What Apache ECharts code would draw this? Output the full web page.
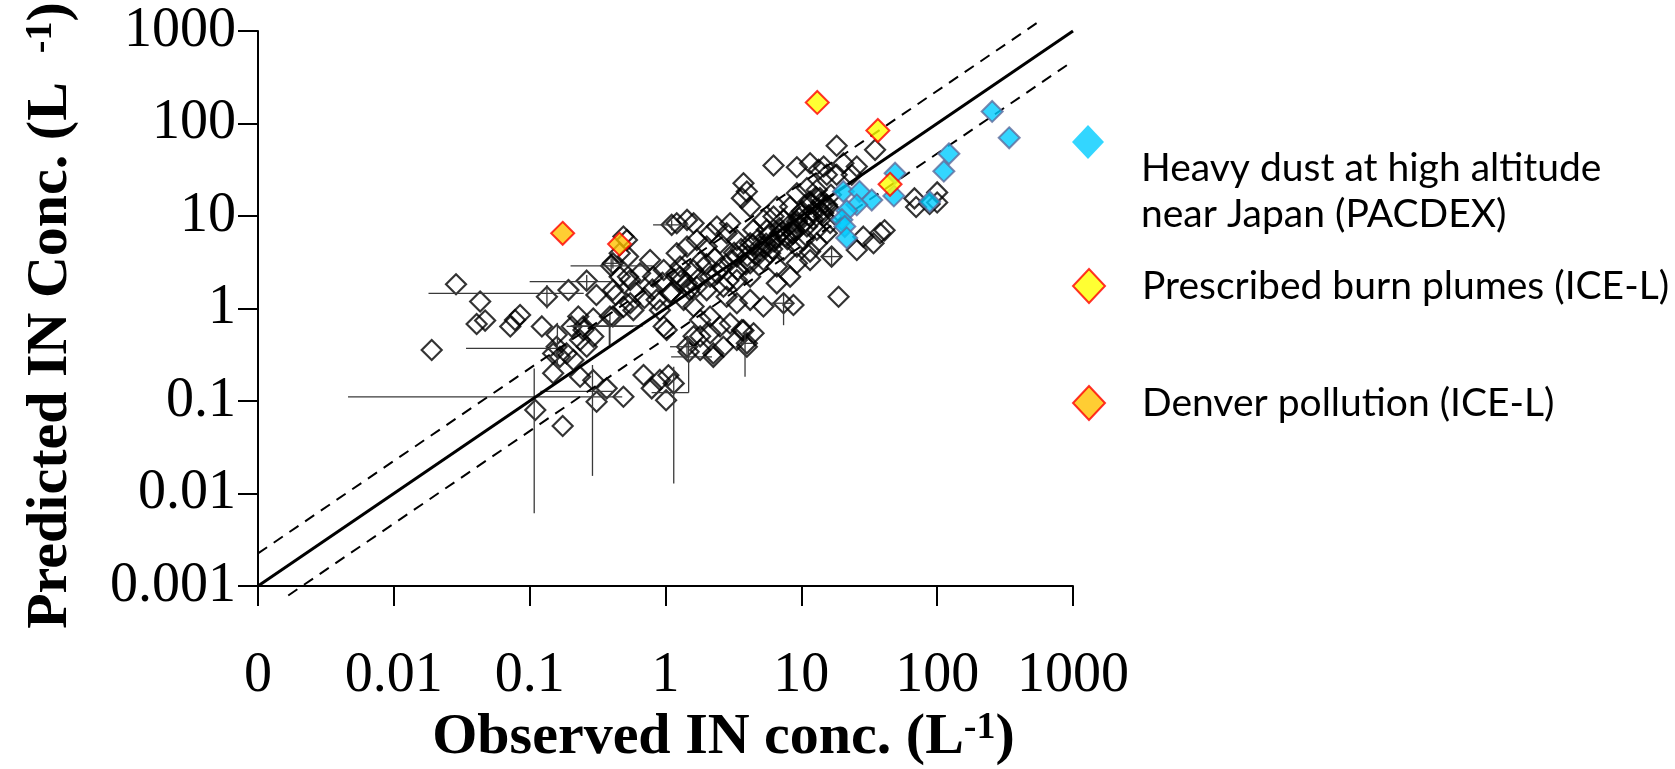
<!DOCTYPE html>
<html>
<head>
<meta charset="utf-8">
<title>Predicted vs observed IN concentration</title>
<script src="https://cdn.jsdelivr.net/npm/echarts@6.0.0/dist/echarts.min.js"></script>
<style>
  html, body { margin: 0; padding: 0; background: #ffffff; }
  #chart { width: 1675px; height: 769px; }
</style>
</head>
<body>
<div id="chart"></div>
<script>
// ---- tick labels (decades 0.001 ... 1000) ----
const xTickLabels = ['0', '0.01', '0.1', '1', '10', '100', '1000'];
const yTickLabels = ['0.001', '0.01', '0.1', '1', '10', '100', '1000'];

// ---- series names ----
const nameAll = 'All samples';
const nameDust = 'Heavy dust at high altitude near Japan (PACDEX)';
const nameBurn = 'Prescribed burn plumes (ICE-L)';
const nameDenver = 'Denver pollution (ICE-L)';

// ---- observed / predicted IN concentrations (L^-1) ----
const allSamples = [
  [0.0287, 1.83], [0.0432, 1.19], [0.0407, 0.68], [0.047, 0.74], [0.019, 0.356],
  [0.072, 0.64], [0.085, 0.85], [0.078, 0.75], [0.123, 0.64], [0.134, 1.34],
  [0.193, 1.58], [0.263, 2.0], [0.398, 2.89], [0.31, 1.4], [0.43, 1.4],
  [0.158, 0.52], [0.149, 0.2], [0.11, 0.08], [0.228, 0.82], [0.248, 0.64],
  [0.294, 0.78], [0.204, 0.64], [0.149, 0.327], [0.167, 0.3], [0.187, 0.327],
  [0.21, 0.277], [0.158, 0.386], [0.235, 0.456], [0.263, 0.386], [0.39, 0.82],
  [0.235, 0.183], [0.294, 0.168], [0.311, 0.098], [0.369, 0.137], [0.49, 0.111],
  [0.175, 0.0536], [0.49, 6.0], [0.53, 3.64], [0.53, 2.2], [0.49, 1.04],
  [0.689, 0.191], [0.792, 0.137], [1.01, 0.102], [0.91, 0.169], [1.15, 0.155],
  [1.05, 0.19], [1.48, 0.34], [2.25, 0.3], [2.67, 0.386], [1.8, 0.5],
  [3.97, 0.42], [4.45, 0.54], [3.65, 0.586], [1.02, 0.586], [0.294, 0.497],
  [0.249, 0.586],
  [18.2, 57.4], [34.9, 51.9], [6.24, 35.1], [9.27, 33.7], [11.6, 37.2],
  [13.4, 31.6], [14.6, 34.3], [15.4, 27.9], [20.4, 37.2], [25.6, 34.3],
  [23.5, 27.9], [18.2, 27.9], [3.75, 22.6], [3.97, 18.4], [3.65, 15.6],
  [4.2, 12.6], [9.27, 17.6], [11, 20], [13, 19.1], [13.7, 15.6],
  [11.6, 14.3], [15.4, 13.2], [6.6, 12.6], [8.27, 12.6], [9.8, 10.7],
  [12.3, 11.2], [14.6, 9.9], [16.3, 8.4], [15.4, 6.5], [13, 7.08],
  [11, 7.69], [9.27, 8.7], [7.4, 9.1], [6.24, 9.86], [5.26, 9.08],
  [4.43, 7.08], [5.57, 7.08], [6.98, 6.5], [8.75, 6.5], [10.4, 5.5],
  [13, 5.07], [11.6, 4.12], [9.27, 4.67], [7.4, 4.3], [5.89, 3.95],
  [4.97, 4.67], [4.2, 5.07], [3.35, 5.5], [2.82, 6.5], [2.39, 7.69],
  [2.13, 6.5], [2.99, 8.36], [1.44, 9.08], [1.21, 8.36], [1.61, 8.36],
  [1.11, 8.02], [2.01, 4.67], [2.52, 5.07], [3.35, 3.64], [4.2, 3.08],
  [5.26, 3.35], [6.6, 2.84], [9.27, 3.08], [11.6, 3.35], [16.7, 3.64],
  [28.6, 5.98], [34, 5.07], [38, 6.5], [41, 7.0], [25.6, 4.3], [18.8, 1.34],
  [8.27, 2.21], [6.6, 1.87], [4.2, 2.21], [3.35, 2.03], [2.67, 1.72],
  [2.82, 1.34], [3.35, 1.14], [4.2, 1.24], [5.26, 1.05], [7.4, 1.14],
  [8.75, 1.09], [2.13, 2.21], [2.01, 1.58], [1.7, 1.72], [1.44, 1.87],
  [1.28, 2.84], [1.21, 3.95], [1.44, 4.67], [1.7, 5.5], [1.28, 2.21],
  [1.08, 1.46], [1.36, 1.24], [1.61, 1.05], [1.8, 0.75], [2.13, 0.82],
  [2.52, 0.64], [2.99, 0.69], [3.75, 0.58], [3.97, 0.386], [3.35, 0.456],
  [2.13, 0.54], [1.61, 0.5], [1.8, 0.356], [2.25, 0.327], [1.44, 0.386],
  [0.97, 0.64], [0.91, 0.96], [0.86, 1.24], [0.81, 2.21], [0.97, 2.61],
  [0.77, 3.35], [0.65, 2.4], [0.55, 2.03], [0.46, 2.21], [0.41, 1.58],
  [0.55, 1.14], [0.58, 0.96], [0.41, 0.82], [0.52, 5.5], [0.46, 3.95],
  [0.41, 3.08],
  [68, 15.5], [70, 12.5], [100, 18], [100, 14], [88, 13.5],
  [2.0, 3.0], [2.3, 3.5], [2.6, 2.8], [3.0, 3.3], [3.2, 4.0],
  [3.6, 4.4], [4.0, 3.7], [4.4, 4.9], [4.8, 5.6], [5.3, 4.6],
  [5.8, 6.2], [6.3, 5.3], [6.9, 7.4], [7.6, 6.1], [8.2, 8.0],
  [8.9, 7.0], [9.6, 9.6], [10.5, 8.4], [11.3, 10.2], [12.2, 9.2],
  [13.4, 12.0], [14.5, 10.8], [1.6, 2.6], [1.8, 3.2], [1.3, 2.0],
  [1.5, 1.6], [1.75, 2.1], [2.4, 2.4], [2.9, 2.0], [3.4, 2.6],
  [3.9, 3.0], [4.6, 3.8], [5.1, 4.1], [5.5, 5.0], [6.1, 4.4],
  [6.6, 5.9], [7.2, 6.7], [7.9, 5.6], [8.6, 6.4], [9.3, 8.2],
  [10.1, 11.3], [11.8, 13.5], [12.8, 16.0], [14.0, 14.0], [15.6, 12.5],
  [16.5, 17.0], [17.5, 10.5], [0.7, 1.3], [0.8, 1.6], [0.95, 1.9],
  [1.1, 1.5], [1.2, 2.4], [0.6, 1.5]
];

const dustSamples = [
  [254, 135], [339, 70], [122, 47], [112, 30.5], [88, 14.3],
  [49, 29], [48, 16.5], [20.4, 18.4], [26.8, 18.4], [33, 14.9],
  [25.6, 13.2], [21.6, 11.4], [19.9, 9.1], [20.9, 7.7], [21.6, 5.8]
];

const burnSamples = [
  [13.1, 169], [36.6, 84], [45, 22]
];

const denverSamples = [
  [0.175, 6.5], [0.459, 4.97]
];

// ---- uncertainty bars: [x, y, xLow, xHigh, yLow, yHigh] ----
const errorBars = [
  [0.134, 1.46, 0.018, 0.25, 1.0, 1.8],
  [0.108, 0.111, 0.0046, 0.48, 0.0061, 0.225],
  [0.15, 0.37, 0.034, 0.167, null, null],
  [0.29, 0.127, 0.12, 0.41, 0.0155, 0.245],
  [1.15, 0.123, 0.79, 1.48, 0.0128, 0.235],
  [1.48, 0.3, 1.1, 2.2, 0.123, 0.5],
  [3.85, 0.42, 3.4, 4.4, 0.183, 0.54],
  [0.386, 0.64, 0.187, 0.58, 0.4, 0.75],
  [0.263, 1.95, 0.1, 0.41, 1.6, 2.3],
  [0.398, 2.89, 0.2, 0.8, 2.3, 3.5],
  [0.39, 0.65, 0.2, 0.68, 0.41, 0.9],
  [1.11, 8.02, 0.81, 1.48, 7.0, 9.0],
  [16.7, 3.64, 14, 19.5, 2.84, 4.67],
  [7.4, 1.14, 6.0, 8.6, 0.66, 1.46],
  [1.44, 0.386, 1.08, 1.7, 0.27, 0.5],
  [0.16, 0.52, null, null, 0.24, 0.7],
  [0.41, 3.08, 0.35, 0.48, 2.7, 3.5]
];

// ---- 1:1 line and factor-of-two bounds ----
const oneToOne = [[0.001, 0.001], [1000, 1000]];
const upperBound = [[0.001, 0.00225], [564, 1270]];
const lowerBound = [[0.00167, 0.00079], [953, 451]];

// ---- drawing ----
const serif = '"Liberation Serif", "Times New Roman", serif';
const sans = 'Lato, "Open Sans", sans-serif';

function decadeIndex(v) { return Math.round(Math.log10(v)) + 3; }

function renderErrorBar(params, api) {
  const x = api.value(0), y = api.value(1);
  const xl = api.value(2), xh = api.value(3), yl = api.value(4), yh = api.value(5);
  const children = [];
  const lineStyle = { stroke: '#3a3a3a', lineWidth: 1.3 };
  if (xl > 0 && xh > 0) {
    const a = api.coord([xl, y]), b = api.coord([xh, y]);
    children.push({ type: 'line', shape: { x1: a[0], y1: a[1], x2: b[0], y2: b[1] }, style: lineStyle });
  }
  if (yl > 0 && yh > 0) {
    const a = api.coord([x, yl]), b = api.coord([x, yh]);
    children.push({ type: 'line', shape: { x1: a[0], y1: a[1], x2: b[0], y2: b[1] }, style: lineStyle });
  }
  return { type: 'group', children: children };
}

const chart = echarts.init(document.getElementById('chart'), null, { renderer: 'canvas' });

const legendText = { fontFamily: sans, fontSize: 39, lineHeight: 46, color: '#000' };
const legendBase = {
  orient: 'vertical',
  left: 1072,
  padding: 0,
  itemWidth: 32,
  itemHeight: 34,
  icon: 'diamond',
  selectedMode: false
};

chart.setOption({
  animation: false,
  backgroundColor: '#ffffff',
  grid: { left: 258, right: 602, top: 31, bottom: 183, containLabel: false, outerBoundsMode: 'none' },
  legend: [
    Object.assign({}, legendBase, {
      top: 91,
      data: [nameDust],
      itemStyle: { borderWidth: 0 },
      // first line is an empty spacer so the text sits below the marker
      formatter: () => '{gap| }\n{a|Heavy dust at high altitude}\n{a|near Japan (PACDEX)}',
      textStyle: {
        rich: {
          gap: { fontFamily: sans, fontSize: 10, lineHeight: 98 },
          a: Object.assign({ padding: [0, 0, 0, 32] }, legendText)
        }
      }
    }),
    Object.assign({}, legendBase, {
      top: 263,
      data: [nameBurn],
      textStyle: Object.assign({ padding: [0, 0, 0, 32] }, legendText)
    }),
    Object.assign({}, legendBase, {
      top: 380,
      data: [nameDenver],
      textStyle: Object.assign({ padding: [0, 0, 0, 32] }, legendText)
    })
  ],
  xAxis: {
    type: 'log',
    logBase: 10,
    min: 0.001,
    max: 1000,
    splitNumber: 6,
    name: '{t|Observed IN conc. (L}{s|-1}{t|)}',
    nameLocation: 'middle',
    nameGap: 122,
    nameTextStyle: {
      padding: [0, 0, 0, 116],
      rich: {
        t: { fontFamily: serif, fontWeight: 'bold', fontSize: 58, color: '#000' },
        s: { fontFamily: serif, fontWeight: 'bold', fontSize: 38, color: '#000', verticalAlign: 'top' }
      }
    },
    axisLine: { show: true, onZero: false, lineStyle: { color: '#000', width: 2 } },
    axisTick: { show: true, inside: false, length: 20, lineStyle: { color: '#000', width: 2 } },
    minorTick: { show: false },
    splitLine: { show: false },
    axisLabel: {
      margin: 62,
      fontFamily: serif,
      fontSize: 56,
      color: '#000',
      formatter: (v) => xTickLabels[decadeIndex(v)]
    }
  },
  yAxis: {
    type: 'log',
    logBase: 10,
    min: 0.001,
    max: 1000,
    splitNumber: 6,
    name: '{t|Predicted IN Conc. (L  }{s|-1}{t|)}',
    nameLocation: 'middle',
    nameRotate: 90,
    nameGap: 178,
    nameTextStyle: {
      padding: [0, 14, 0, 0],
      rich: {
        t: { fontFamily: serif, fontWeight: 'bold', fontSize: 58, color: '#000' },
        s: { fontFamily: serif, fontWeight: 'bold', fontSize: 38, color: '#000', verticalAlign: 'top' }
      }
    },
    axisLine: { show: true, onZero: false, lineStyle: { color: '#000', width: 2 } },
    axisTick: { show: true, inside: false, length: 20, lineStyle: { color: '#000', width: 2 } },
    minorTick: { show: false },
    splitLine: { show: false },
    axisLabel: {
      margin: 22,
      fontFamily: serif,
      fontSize: 56,
      color: '#000',
      formatter: (v) => yTickLabels[decadeIndex(v)]
    }
  },
  series: [
    {
      name: nameAll,
      type: 'scatter',
      symbol: 'diamond',
      symbolSize: 20,
      data: allSamples,
      silent: true,
      z: 2,
      itemStyle: { color: 'rgba(0,0,0,0)', borderColor: '#000', borderWidth: 2.2 }
    },
    {
      name: 'uncertainty',
      type: 'custom',
      renderItem: renderErrorBar,
      data: errorBars,
      silent: true,
      z: 3
    },
    {
      name: '1:1',
      type: 'line',
      data: oneToOne,
      symbol: 'none',
      silent: true,
      clip: false,
      z: 4,
      lineStyle: { color: '#000', width: 3, type: 'solid' }
    },
    {
      name: 'upper',
      type: 'line',
      data: upperBound,
      symbol: 'none',
      silent: true,
      clip: false,
      z: 4,
      lineStyle: { color: '#000', width: 2, type: [11, 8] }
    },
    {
      name: 'lower',
      type: 'line',
      data: lowerBound,
      symbol: 'none',
      silent: true,
      clip: false,
      z: 4,
      lineStyle: { color: '#000', width: 2, type: [11, 8] }
    },
    {
      name: nameDust,
      type: 'scatter',
      symbol: 'diamond',
      symbolSize: 21,
      data: dustSamples,
      silent: true,
      z: 5,
      itemStyle: { color: '#00CCFF', borderColor: '#5F6B9C', borderWidth: 2 }
    },
    {
      name: nameBurn,
      type: 'scatter',
      symbol: 'diamond',
      symbolSize: 23,
      data: burnSamples,
      silent: true,
      z: 5,
      itemStyle: { color: '#FFFF00', borderColor: '#FF0000', borderWidth: 2 }
    },
    {
      name: nameDenver,
      type: 'scatter',
      symbol: 'diamond',
      symbolSize: 23,
      data: denverSamples,
      silent: true,
      z: 5,
      itemStyle: { color: '#FFC000', borderColor: '#FF0000', borderWidth: 2 }
    }
  ]
});
</script>
</body>
</html>
